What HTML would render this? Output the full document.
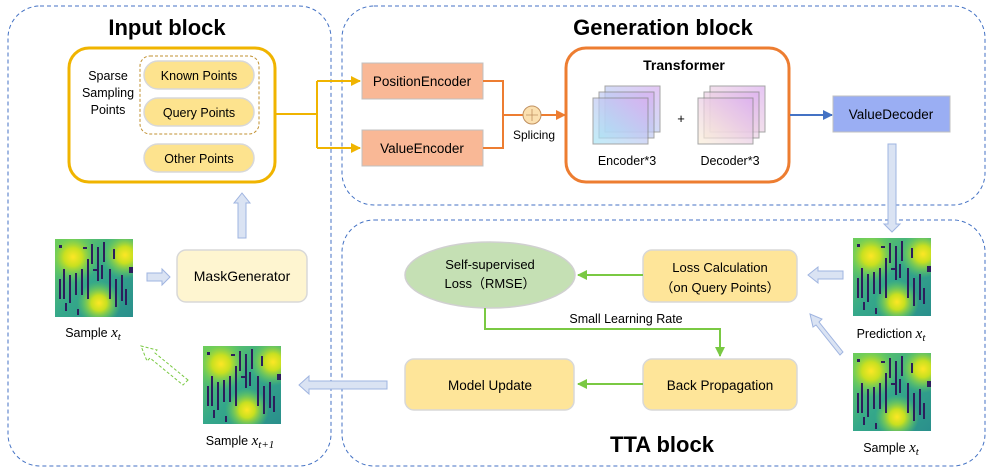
<!DOCTYPE html>
<html><head><meta charset="utf-8"><style>
body{margin:0;background:#fff}
svg{display:block;font-family:"Liberation Sans","Noto Sans CJK SC",sans-serif}
</style></head><body>
<svg width="996" height="473" viewBox="0 0 996 473" xmlns="http://www.w3.org/2000/svg">
<defs>
<radialGradient id="hot"><stop offset="0" stop-color="#fde725"/><stop offset="0.35" stop-color="#c8e020"/><stop offset="0.7" stop-color="#7ad151" stop-opacity="0.6"/><stop offset="1" stop-color="#5ec962" stop-opacity="0"/></radialGradient>
<linearGradient id="bg" x1="0" y1="0" x2="1" y2="1"><stop offset="0" stop-color="#6fcf5a"/><stop offset="0.5" stop-color="#35a88a"/><stop offset="1" stop-color="#2a8f8c"/></linearGradient>
<linearGradient id="enc" x1="0" y1="1" x2="1" y2="0"><stop offset="0" stop-color="#a8e6f5"/><stop offset="1" stop-color="#d8aef0"/></linearGradient>
<linearGradient id="dec" x1="0" y1="1" x2="1" y2="0"><stop offset="0" stop-color="#fbf0d8"/><stop offset="1" stop-color="#dcaef0"/></linearGradient>
<clipPath id="cl"><rect width="78" height="78"/></clipPath>
<marker id="ao" viewBox="0 0 10 10" refX="9" refY="5" markerWidth="5" markerHeight="5" orient="auto"><path d="M0,0L10,5L0,10z" fill="#f0b400"/></marker>
<marker id="ar" viewBox="0 0 10 10" refX="9" refY="5" markerWidth="5" markerHeight="5" orient="auto"><path d="M0,0L10,5L0,10z" fill="#ed7d31"/></marker>
<marker id="ab" viewBox="0 0 10 10" refX="9" refY="5" markerWidth="5" markerHeight="5" orient="auto"><path d="M0,0L10,5L0,10z" fill="#4472c4"/></marker>
<marker id="ag" viewBox="0 0 10 10" refX="9" refY="5" markerWidth="5" markerHeight="5" orient="auto"><path d="M0,0L10,5L0,10z" fill="#7ac943"/></marker>
<g id="map"><g clip-path="url(#cl)">
<rect width="78" height="78" fill="url(#bg)"/>
<circle cx="18" cy="18" r="26" fill="url(#hot)"/>
<circle cx="70" cy="16" r="24" fill="url(#hot)"/>
<circle cx="44" cy="64" r="22" fill="url(#hot)"/>
<g fill="#2c1e5c">
<rect x="8" y="30" width="2" height="30"/><rect x="14" y="36" width="2" height="28"/><rect x="20" y="34" width="2" height="22"/><rect x="26" y="30" width="2" height="26"/><rect x="32" y="20" width="2" height="40"/><rect x="36" y="5" width="2" height="20"/><rect x="42" y="8" width="2" height="34"/><rect x="48" y="3" width="2" height="20"/><rect x="54" y="30" width="2" height="30"/><rect x="60" y="40" width="2" height="28"/><rect x="66" y="36" width="2" height="26"/><rect x="4" y="6" width="3" height="3"/><rect x="74" y="28" width="4" height="6"/><rect x="38" y="30" width="6" height="2"/><rect x="22" y="70" width="2" height="6"/><rect x="10" y="64" width="2" height="8"/>
<rect x="4" y="40" width="2" height="20"/><rect x="46" y="26" width="2" height="14"/><rect x="70" y="50" width="2" height="16"/><rect x="28" y="8" width="4" height="2"/><rect x="58" y="10" width="2" height="10"/>
</g></g>
</g>
</defs>

<rect x="8" y="6" width="323" height="460" rx="32" fill="none" stroke="#4472c4" stroke-width="1" stroke-dasharray="4,3"/>
<rect x="342" y="6" width="643" height="199" rx="32" fill="none" stroke="#4472c4" stroke-width="1" stroke-dasharray="4,3"/>
<rect x="342" y="220" width="643" height="246" rx="32" fill="none" stroke="#4472c4" stroke-width="1" stroke-dasharray="4,3"/>
<text x="167" y="35" font-size="22" font-weight="bold" text-anchor="middle">Input block</text>
<text x="663" y="35" font-size="22" font-weight="bold" text-anchor="middle">Generation block</text>
<text x="662" y="452" font-size="22" font-weight="bold" text-anchor="middle">TTA block</text>

<rect x="69" y="48" width="206" height="134" rx="20" fill="#fff" stroke="#f0b400" stroke-width="3"/>
<rect x="140" y="56" width="119" height="78" rx="10" fill="none" stroke="#c09030" stroke-dasharray="3,2"/>
<g font-size="12.5" text-anchor="middle">
<text x="108" y="80">Sparse</text><text x="108" y="97">Sampling</text><text x="108" y="114">Points</text>
</g>
<g fill="#fde38e" stroke="#d8d8d8" stroke-width="1.5">
<rect x="144" y="61" width="110" height="28" rx="14"/><rect x="144" y="98" width="110" height="28" rx="14"/><rect x="144" y="144" width="110" height="28" rx="14"/>
</g>
<g font-size="12.5" text-anchor="middle">
<text x="199" y="80">Known Points</text><text x="199" y="117">Query Points</text><text x="199" y="163">Other Points</text>
</g>
<polyline points="275,114 317,114" fill="none" stroke="#f0b400" stroke-width="2"/>
<polyline points="317,81 317,148" fill="none" stroke="#f0b400" stroke-width="2"/>
<line x1="317" y1="81" x2="360" y2="81" stroke="#f0b400" stroke-width="2" marker-end="url(#ao)"/>
<line x1="317" y1="148" x2="360" y2="148" stroke="#f0b400" stroke-width="2" marker-end="url(#ao)"/>

<rect x="362" y="63" width="121" height="36" fill="#f9b896" stroke="#c0c0c0"/>
<rect x="362" y="130" width="121" height="36" fill="#f9b896" stroke="#c0c0c0"/>
<text x="422" y="86" font-size="13.5" text-anchor="middle">PositionEncoder</text>
<text x="422" y="153" font-size="13.5" text-anchor="middle">ValueEncoder</text>
<polyline points="483,81 503,81 503,148 483,148" fill="none" stroke="#ed7d31" stroke-width="2"/>
<line x1="503" y1="115" x2="523" y2="115" stroke="#ed7d31" stroke-width="2"/>
<line x1="541" y1="115" x2="565" y2="115" stroke="#ed7d31" stroke-width="2" marker-end="url(#ar)"/>
<circle cx="532" cy="115" r="9" fill="#fbe0b0" stroke="#c09060"/>
<path d="M532,109v12M526,115h12" stroke="#c09060" stroke-width="0.8"/>
<text x="534" y="139" font-size="12" text-anchor="middle">Splicing</text>

<rect x="566" y="48" width="223" height="134" rx="20" fill="#fff" stroke="#ed7d31" stroke-width="3"/>
<text x="684" y="70" font-size="14" font-weight="bold" text-anchor="middle">Transformer</text>
<g stroke="#808080" stroke-width="1">
<rect x="605" y="86" width="55" height="46" fill="url(#enc)" opacity="0.7"/>
<rect x="599" y="92" width="55" height="46" fill="url(#enc)" opacity="0.7"/>
<rect x="593" y="98" width="55" height="46" fill="url(#enc)" opacity="0.7"/>
<rect x="710" y="86" width="55" height="46" fill="url(#dec)" opacity="0.7"/>
<rect x="704" y="92" width="55" height="46" fill="url(#dec)" opacity="0.7"/>
<rect x="698" y="98" width="55" height="46" fill="url(#dec)" opacity="0.7"/>
</g>
<text x="681" y="123" font-size="13" text-anchor="middle">+</text>
<text x="627" y="165" font-size="12.5" text-anchor="middle">Encoder*3</text>
<text x="730" y="165" font-size="12.5" text-anchor="middle">Decoder*3</text>
<line x1="790" y1="115" x2="832" y2="115" stroke="#4472c4" stroke-width="2" marker-end="url(#ab)"/>
<rect x="833" y="96" width="117" height="36" fill="#9aaef3" stroke="#c0c0c0"/>
<text x="891" y="119" font-size="13.5" text-anchor="middle">ValueDecoder</text>

<g fill="#dae3f3" stroke="#9fb4e0" stroke-width="1">
<path d="M888,144h8v80h4l-8,8l-8,-8h4z"/>
<path d="M238,238v-35h-4l8,-10l8,10h-4v35z"/>
<path d="M147,273h15v-4l8,8l-8,8v-4h-15z"/>
<path d="M387,381h-78v-5l-10,9l10,9v-5h78z"/>
<path d="M843,271h-25v-4l-10,8l10,8v-4h25z"/>
<path d="M843,352l-24,-30l3,-3l-12,-5l3,13l3,-2l24,30z"/>
</g>
<path d="M188,380l-33,-27l2,-3l-16,-4l6,15l3,-3l33,27z" fill="none" stroke="#7ac943" stroke-dasharray="3,2"/>

<use href="#map" x="55" y="239"/>
<text x="93" y="337" font-size="12.5" text-anchor="middle">Sample <tspan font-family="Liberation Serif" font-style="italic" font-size="15">x</tspan><tspan font-family="Liberation Serif" font-style="italic" font-size="11" dy="3">t</tspan></text>
<rect x="177" y="250" width="130" height="52" rx="9" fill="#fef5d0" stroke="#d8d8d8" stroke-width="1.5"/>
<text x="242" y="281" font-size="14" text-anchor="middle">MaskGenerator</text>
<use href="#map" x="203" y="346"/>
<text x="240" y="445" font-size="12.5" text-anchor="middle">Sample <tspan font-family="Liberation Serif" font-style="italic" font-size="15">x</tspan><tspan font-family="Liberation Serif" font-style="italic" font-size="11" dy="3">t+1</tspan></text>

<ellipse cx="490" cy="275" rx="85" ry="33" fill="#c5e0b4" stroke="#d0d0d0" stroke-width="1.5"/>
<text x="490" y="269" font-size="13" text-anchor="middle">Self-supervised</text>
<text x="490" y="288" font-size="13" text-anchor="middle">Loss（RMSE）</text>
<rect x="643" y="250" width="154" height="52" rx="9" fill="#fee599" stroke="#d8d8d8" stroke-width="1.5"/>
<text x="720" y="272" font-size="13" text-anchor="middle">Loss Calculation</text>
<text x="720" y="292" font-size="13" text-anchor="middle">（on Query Points）</text>
<line x1="643" y1="275" x2="578" y2="275" stroke="#7ac943" stroke-width="2" marker-end="url(#ag)"/>
<polyline points="485,308 485,329 720,329 720,356" fill="none" stroke="#7ac943" stroke-width="2" marker-end="url(#ag)"/>
<text x="626" y="323" font-size="12.5" text-anchor="middle">Small Learning Rate</text>
<rect x="643" y="359" width="154" height="51" rx="9" fill="#fee599" stroke="#d8d8d8" stroke-width="1.5"/>
<text x="720" y="390" font-size="13.5" text-anchor="middle">Back Propagation</text>
<rect x="405" y="359" width="169" height="51" rx="9" fill="#fee599" stroke="#d8d8d8" stroke-width="1.5"/>
<text x="490" y="390" font-size="13.5" text-anchor="middle">Model Update</text>
<line x1="643" y1="384" x2="578" y2="384" stroke="#7ac943" stroke-width="2" marker-end="url(#ag)"/>

<use href="#map" x="853" y="238"/>
<text x="891" y="338" font-size="12.5" text-anchor="middle">Prediction <tspan font-family="Liberation Serif" font-style="italic" font-size="15">x</tspan><tspan font-family="Liberation Serif" font-style="italic" font-size="11" dy="3">t</tspan></text>
<use href="#map" x="853" y="353"/>
<text x="891" y="452" font-size="12.5" text-anchor="middle">Sample <tspan font-family="Liberation Serif" font-style="italic" font-size="15">x</tspan><tspan font-family="Liberation Serif" font-style="italic" font-size="11" dy="3">t</tspan></text>
</svg>
</body></html>
